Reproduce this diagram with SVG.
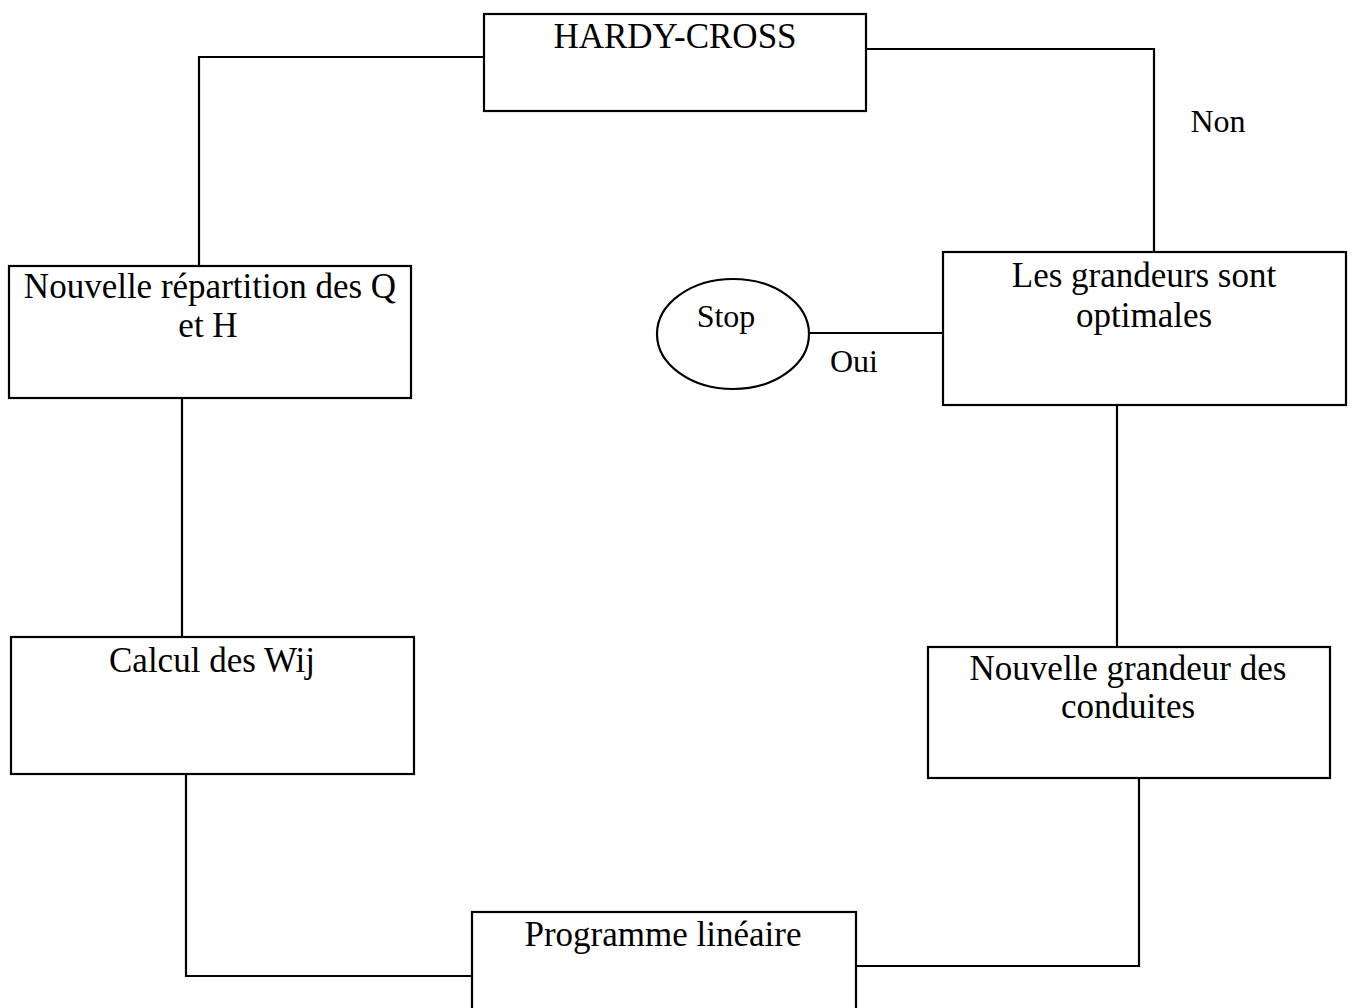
<svg xmlns="http://www.w3.org/2000/svg" width="1353" height="1008" viewBox="0 0 1353 1008">
<style>
.box{fill:#fff;stroke:#000;stroke-width:2.2}
.ln{fill:none;stroke:#000;stroke-width:2.2}
text{font-family:"Liberation Serif","Times New Roman",serif;font-size:35px;fill:#000;text-anchor:middle}
.lbl{font-size:32px}
</style>
<rect width="1353" height="1008" fill="#fff"/>
<g id="connectors">
<polyline class="ln" points="484,57 199,57 199,266"/>
<polyline class="ln" points="866,49 1154,49 1154,252"/>
<line class="ln" x1="810" y1="333" x2="943" y2="333"/>
<line class="ln" x1="1117" y1="405" x2="1117" y2="647"/>
<polyline class="ln" points="1139,779 1139,966 856,966"/>
<polyline class="ln" points="472,976 186,976 186,775"/>
<line class="ln" x1="182" y1="398" x2="182" y2="637"/>
<text class="lbl" x="1218" y="132">Non</text>
<text class="lbl" x="854" y="372">Oui</text>
</g>
<g id="hardy">
<rect class="box" x="484" y="14" width="382" height="97"/>
<text x="675" y="48">HARDY-CROSS</text>
</g>
<g id="repartition">
<rect class="box" x="9" y="266" width="402" height="132"/>
<text x="210" y="298">Nouvelle répartition des Q</text>
<text x="208" y="337">et H</text>
</g>
<g id="stop">
<ellipse class="box" cx="733" cy="334" rx="76" ry="55"/>
<text class="lbl" x="726" y="327">Stop</text>
</g>
<g id="grandeurs">
<rect class="box" x="943" y="252" width="403" height="153"/>
<text x="1144" y="287">Les grandeurs sont</text>
<text x="1144" y="327">optimales</text>
</g>
<g id="calcul">
<rect class="box" x="11" y="637" width="403" height="137"/>
<text x="212" y="672">Calcul des Wij</text>
</g>
<g id="nouvelle-grandeur">
<rect class="box" x="928" y="647" width="402" height="131"/>
<text x="1128" y="680">Nouvelle grandeur des</text>
<text x="1128" y="718">conduites</text>
</g>
<g id="programme">
<rect class="box" x="472" y="912" width="384" height="100"/>
<text x="663" y="946">Programme linéaire</text>
</g>
</svg>
